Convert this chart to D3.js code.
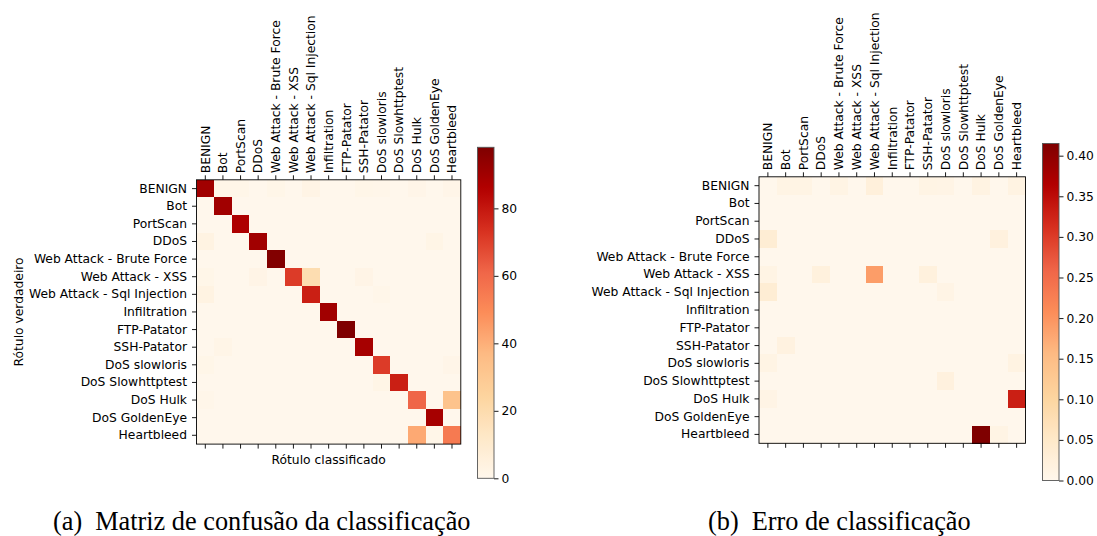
<!DOCTYPE html>
<html>
<head>
<meta charset="utf-8">
<script src="https://cdn.jsdelivr.net/npm/d3@7"></script>
<style>
  html, body { margin: 0; padding: 0; background: #fff; }
  svg { display: block; }
  .tick text { font-family: "DejaVu Sans", sans-serif; fill: #000; }
</style>
</head>
<body>
<svg id="fig" width="1097" height="536"></svg>
<script>
// Class labels (rows: true label, columns: predicted label)
const classes = [
  "BENIGN", "Bot", "PortScan", "DDoS", "Web Attack - Brute Force",
  "Web Attack - XSS", "Web Attack - Sql Injection", "Infiltration",
  "FTP-Patator", "SSH-Patator", "DoS slowloris", "DoS Slowhttptest",
  "DoS Hulk", "DoS GoldenEye", "Heartbleed"
];

// Confusion matrix, row-normalised, in percent
const confusion = [
  [90.0, 1.2, 1.2, 0, 1.2, 0, 2.5, 0, 0, 1.2, 1.0, 0, 1.5, 0, 1.5],
  [0, 90.0, 0, 0, 0, 0, 0, 0, 0, 0, 0, 0, 0, 0, 0],
  [0, 0, 87.0, 0, 0, 0, 0, 0, 0, 0, 0, 0, 0, 0, 0],
  [3.5, 0, 0, 90.0, 0, 0, 0, 0, 0, 0, 0, 0, 0, 2.0, 0],
  [0, 0, 0, 0, 97.5, 0, 0, 0, 0, 0, 0, 0, 0, 0, 0],
  [1.2, 0, 0, 2.2, 0, 71.0, 19.0, 0, 0, 2.2, 0, 0, 0, 0, 0],
  [3.5, 0, 0, 0, 0, 0, 78.0, 0, 0, 0, 1.0, 0, 0, 0, 0],
  [0, 0, 0, 0, 0, 0, 0, 90.0, 0, 0, 0, 0, 0, 0, 0],
  [0, 0, 0, 0, 0, 0, 0, 0, 98.1, 0, 0, 0, 0, 0, 0],
  [0, 1.8, 0, 0, 0, 0, 0, 0, 0, 89.0, 0, 0, 0, 0, 0],
  [1.2, 0, 0, 0, 0, 0, 0, 0, 0, 0, 71.0, 0, 0, 0, 1.5],
  [0, 0, 0, 0, 0, 0, 0, 0, 0, 0, 2.0, 78.0, 0, 0, 0],
  [1.0, 0, 0, 0, 0, 0, 0, 0, 0, 0, 0, 0, 61.0, 0, 33.0],
  [0, 0, 0, 0, 0, 0, 0, 0, 0, 0, 0, 0, 0, 89.0, 0],
  [0, 0, 0, 0, 0, 0, 0, 0, 0, 0, 0, 0, 41.5, 1.2, 55.0]
];

// Misclassification rate (off-diagonal errors as fractions)
const errors = [
  [0, 0.012, 0.012, 0, 0.012, 0, 0.025, 0, 0, 0.012, 0.010, 0, 0.015, 0, 0.015],
  [0, 0, 0, 0, 0, 0, 0, 0, 0, 0, 0, 0, 0, 0, 0],
  [0, 0, 0, 0, 0, 0, 0, 0, 0, 0, 0, 0, 0, 0, 0],
  [0.035, 0, 0, 0, 0, 0, 0, 0, 0, 0, 0, 0, 0, 0.020, 0],
  [0, 0, 0, 0, 0, 0, 0, 0, 0, 0, 0, 0, 0, 0, 0],
  [0.012, 0, 0, 0.022, 0, 0, 0.190, 0, 0, 0.022, 0, 0, 0, 0, 0],
  [0.035, 0, 0, 0, 0, 0, 0, 0, 0, 0, 0.010, 0, 0, 0, 0],
  [0, 0, 0, 0, 0, 0, 0, 0, 0, 0, 0, 0, 0, 0, 0],
  [0, 0, 0, 0, 0, 0, 0, 0, 0, 0, 0, 0, 0, 0, 0],
  [0, 0.018, 0, 0, 0, 0, 0, 0, 0, 0, 0, 0, 0, 0, 0],
  [0.012, 0, 0, 0, 0, 0, 0, 0, 0, 0, 0, 0, 0, 0, 0.015],
  [0, 0, 0, 0, 0, 0, 0, 0, 0, 0, 0.020, 0, 0, 0, 0],
  [0.010, 0, 0, 0, 0, 0, 0, 0, 0, 0, 0, 0, 0, 0, 0.330],
  [0, 0, 0, 0, 0, 0, 0, 0, 0, 0, 0, 0, 0, 0, 0],
  [0, 0, 0, 0, 0, 0, 0, 0, 0, 0, 0, 0, 0.415, 0.012, 0]
];

const confusionTicks = [0, 20, 40, 60, 80];
const errorTicks = [0, 0.05, 0.10, 0.15, 0.20, 0.25, 0.30, 0.35, 0.40];

const xAxisLabel = "Rótulo classificado";
const yAxisLabel = "Rótulo verdadeiro";
const captions = [["(a)", "Matriz de confusão da classificação"], ["(b)", "Erro de classificação"]];

// OrRd colour ramp (ColorBrewer, linearly interpolated)
const orrd = ["#fff7ec", "#fee8c8", "#fdd49e", "#fdbb84", "#fc8d59",
              "#ef6548", "#d7301f", "#b30000", "#7f0000"];
function makeCmap(vmin, vmax) {
  const stops = orrd.map((_, i) => vmin + (vmax - vmin) * i / (orrd.length - 1));
  return d3.scaleLinear().domain(stops).range(orrd).interpolate(d3.interpolateRgb).clamp(true);
}

const svg = d3.select("#fig");
const FONT = '"DejaVu Sans", sans-serif';
const FS = 12.3;

function drawPanel(opt) {
  const { data, x0, y0, size, showAxisLabels, cb, tickFmt, caption } = opt;
  const vmax = d3.max(data.flat());
  const color = makeCmap(0, vmax);
  const g = svg.append("g");

  const xs = d3.scaleBand().domain(d3.range(classes.length)).range([x0, x0 + size]);
  const ys = d3.scaleBand().domain(d3.range(classes.length)).range([y0, y0 + size]);

  // cells
  const cells = [];
  data.forEach((row, i) => row.forEach((v, j) => cells.push({ i, j, v })));
  g.selectAll("rect.cell").data(cells).join("rect")
    .attr("class", "cell")
    .attr("x", d => xs(d.j))
    .attr("y", d => ys(d.i))
    .attr("width", xs.bandwidth() + 0.3)
    .attr("height", ys.bandwidth() + 0.3)
    .attr("fill", d => color(d.v))
    .attr("shape-rendering", "crispEdges");

  // axes
  const fmtName = i => classes[i];
  const top = g.append("g").attr("transform", `translate(0,${y0})`)
    .call(d3.axisTop(xs).tickFormat(fmtName).tickSize(4.5).tickPadding(2));
  top.selectAll("text")
    .attr("transform", "rotate(-90)")
    .attr("x", 6.5).attr("y", 0).attr("dy", "0.35em")
    .style("text-anchor", "start");

  g.append("g").attr("transform", `translate(0,${y0 + size})`)
    .call(d3.axisBottom(xs).tickFormat("").tickSize(4.5));

  g.append("g").attr("transform", `translate(${x0},0)`)
    .call(d3.axisLeft(ys).tickFormat(fmtName).tickSize(4.5).tickPadding(5));

  g.selectAll(".domain").remove();
  g.selectAll(".tick line").attr("stroke", "#000").attr("stroke-width", 0.9);
  g.selectAll(".tick text").style("font-size", FS + "px").style("font-family", FONT);

  // frame
  g.append("rect").attr("x", x0).attr("y", y0).attr("width", size).attr("height", size)
    .attr("fill", "none").attr("stroke", "#000").attr("stroke-width", 0.9);

  if (showAxisLabels) {
    g.append("text").attr("x", x0 + size / 2).attr("y", y0 + size + 20)
      .attr("text-anchor", "middle").style("font-family", FONT).style("font-size", FS + "px")
      .text(xAxisLabel);
    g.append("text")
      .attr("transform", `translate(${x0 - 174},${y0 + size / 2}) rotate(-90)`)
      .attr("text-anchor", "middle").style("font-family", FONT).style("font-size", FS + "px")
      .text(yAxisLabel);
  }

  // colour bar
  const gradId = "grad" + opt.id;
  const grad = svg.append("defs").append("linearGradient").attr("id", gradId)
    .attr("x1", 0).attr("y1", 1).attr("x2", 0).attr("y2", 0);
  d3.range(0, 1.0001, 0.02).forEach(t => {
    grad.append("stop").attr("offset", t).attr("stop-color", color(t * vmax));
  });
  const cbs = d3.scaleLinear().domain([0, vmax]).range([cb.y1, cb.y0]);
  g.append("rect").attr("x", cb.x).attr("y", cb.y0).attr("width", cb.w).attr("height", cb.y1 - cb.y0)
    .attr("fill", `url(#${gradId})`);
  const cbAxis = g.append("g").attr("transform", `translate(${cb.x + cb.w},0)`)
    .call(d3.axisRight(cbs).tickValues(cb.ticks).tickFormat(tickFmt).tickSize(4.5).tickPadding(3));
  cbAxis.select(".domain").remove();
  cbAxis.selectAll(".tick line").attr("stroke", "#000").attr("stroke-width", 0.9);
  cbAxis.selectAll(".tick text").style("font-size", FS + "px").style("font-family", FONT).attr("fill", "#000");
  g.append("rect").attr("x", cb.x).attr("y", cb.y0).attr("width", cb.w).attr("height", cb.y1 - cb.y0)
    .attr("fill", "none").attr("stroke", "#555").attr("stroke-width", 0.9);

  // caption
  const cap = g.append("text").attr("x", caption.x).attr("y", caption.y)
    .style("font-family", '"Liberation Serif", "Times New Roman", serif').style("font-size", "26.3px")
    .attr("fill", "#000");
  cap.append("tspan").text(caption.text[0]);
  cap.append("tspan").attr("dx", 13).text(caption.text[1]);
}

drawPanel({
  id: "a", data: confusion, x0: 196.5, y0: 179.8, size: 264.3, showAxisLabels: true,
  cb: { x: 477.5, w: 16.5, y0: 147.3, y1: 478.3, ticks: confusionTicks },
  tickFmt: d3.format("d"),
  caption: { x: 53, y: 530, text: captions[0] }
});

drawPanel({
  id: "b", data: errors, x0: 759, y0: 176.8, size: 266.5, showAxisLabels: false,
  cb: { x: 1042.5, w: 16.5, y0: 143.5, y1: 480.5, ticks: errorTicks },
  tickFmt: d3.format(".2f"),
  caption: { x: 708, y: 530, text: captions[1] }
});
</script>
</body>
</html>
